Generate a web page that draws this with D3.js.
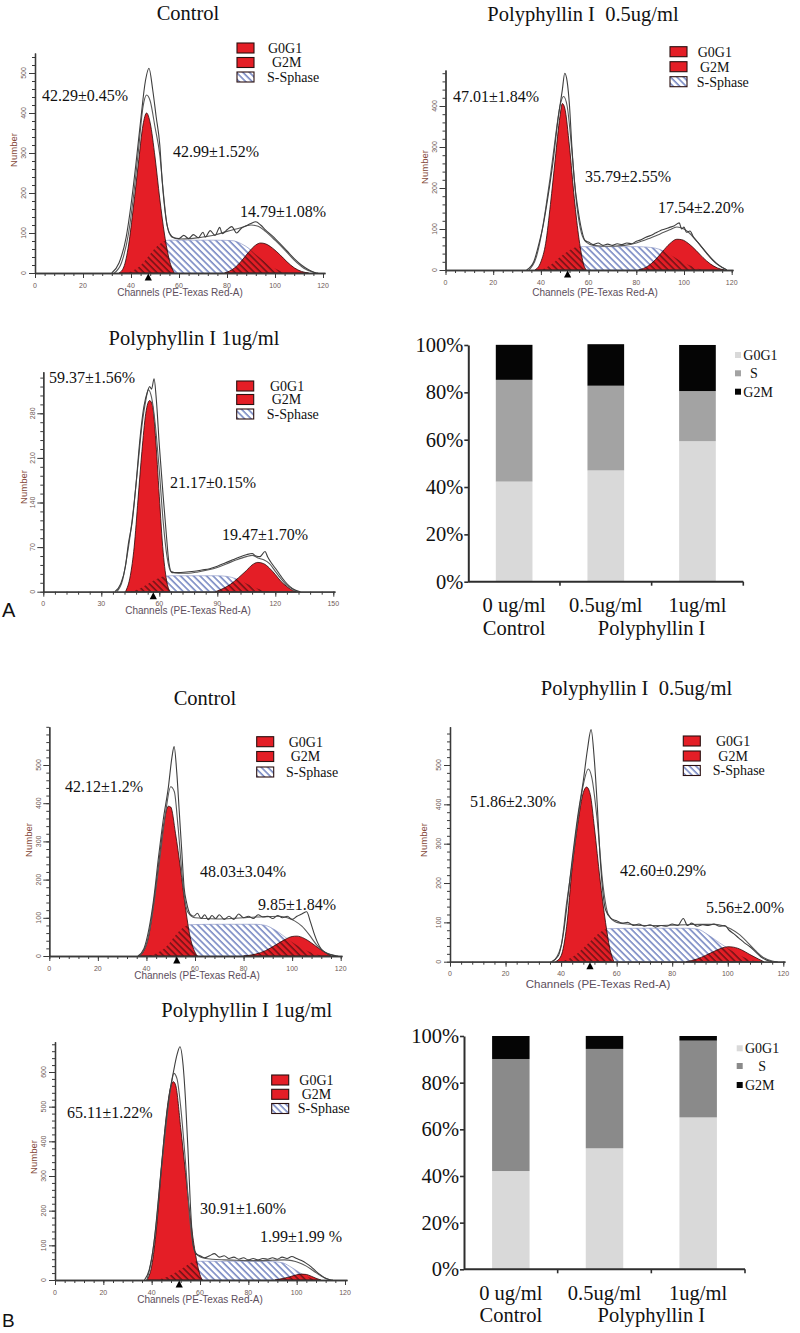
<!DOCTYPE html>
<html><head><meta charset="utf-8">
<script src="https://cdn.jsdelivr.net/npm/d3@7"></script>
<style>body{margin:0;background:#fff}svg{display:block}</style>
</head><body>
<svg id="fig" width="800" height="1333"></svg>
<script>
// ===================== DATA =====================
const panelTitles = ["Control","Polyphyllin I  0.5ug/ml","Polyphyllin I 1ug/ml","Control","Polyphyllin I  0.5ug/ml","Polyphyllin I 1ug/ml"];
const histLegend = ["G0G1","G2M","S-Sphase"];
const xAxisTitle = "Channels (PE-Texas Red-A)";
const yAxisTitle = "Number";

const xTicks120 = [0,20,40,60,80,100,120];
const xTicks150 = [0,30,60,90,120,150];
const yTicksA1 = [0,100,200,300,400,500];
const yTicksA2 = [0,100,200,300,400];
const yTicksA3 = [0,70,140,210,280];
const yTicksB1 = [0,100,200,300,400,500];
const yTicksB2 = [0,100,200,300,400,500];
const yTicksB3 = [0,100,200,300,400,500,600];

const phaseLabelsA1 = ["42.29±0.45%","42.99±1.52%","14.79±1.08%"];
const phaseLabelsA2 = ["47.01±1.84%","35.79±2.55%","17.54±2.20%"];
const phaseLabelsA3 = ["59.37±1.56%","21.17±0.15%","19.47±1.70%"];
const phaseLabelsB1 = ["42.12±1.2%","48.03±3.04%","9.85±1.84%"];
const phaseLabelsB2 = ["51.86±2.30%","42.60±0.29%","5.56±2.00%"];
const phaseLabelsB3 = ["65.11±1.22%","30.91±1.60%","1.99±1.99 %"];

// G1 peak marker channel
const g1Marker = [47.2, 51.2, 56.9, 52.5, 50.4, 51.4];

// [channel, count]
const a1G1 = [[35,0],[37,15],[39,70],[41,165],[43,270],[45,370],[46.5,400],[48,375],[50,290],[52,185],[54,95],[56,32],[58,0]];
const a1S = [[38,0],[42,10],[45,25],[47,40],[50,62],[53,77],[56,82],[65,82],[75,82],[82,81],[86,73],[89,62],[92,46],[96,27],[100,11],[104,2],[106,0]];
const a1G2 = [[79,0],[83,12],[86,30],[89,52],[92,70],[94,75],[96,73],[99,62],[102,46],[105,28],[108,13],[111,4],[114,0]];
const a1Obs1 = [[32,0],[35,25],[38,90],[40,170],[42,270],[44,380],[46,480],[47.5,512],[49,460],[50.5,390],[52,320],[53,230],[54.5,140],[56,100],[58,88],[60,86],[62,94],[64,86],[66,96],[68,88],[70,102],[71,90],[73,106],[75,94],[77,114],[78,98],[80,108],[82,116],[84,100],[86,112],[88,118],[90,124],[92,128],[94,120],[96,108],[99,92],[102,74],[105,55],[108,36],[111,20],[114,8],[117,0]];
const a1Obs2 = [[33,0],[36,25],[39,100],[41,190],[43,300],[45,415],[46.5,445],[48,430],[50,365],[52,295],[53.5,200],[55,120],[57,90],[60,85],[65,86],[70,90],[75,95],[80,104],[85,112],[90,120],[93,117],[96,104],[100,82],[104,58],[108,32],[112,12],[116,2],[118,0]];

const a2G1 = [[37.5,0],[40,20],[42,65],[44,160],[46,270],[48,375],[49,406],[50,395],[52,300],[54,175],[56,75],[58,12],[59,0]];
const a2S = [[40,0],[44,12],[48,32],[52,48],[55,56],[58,57],[70,57],[80,57],[86,55],[90,50],[94,38],[98,24],[102,12],[106,3],[108,0]];
const a2G2 = [[81,0],[85,10],[88,25],[91,45],[94,64],[97,75],[99,74],[102,64],[105,48],[108,30],[111,15],[114,5],[117,0]];
const a2Obs1 = [[34,0],[37,20],[39,60],[41,110],[43,180],[45,260],[47,360],[49,440],[50,480],[51,460],[52,400],[53,300],[54,220],[55.5,150],[57,100],[58.5,72],[60,68],[62,62],[64,66],[66,60],[68,63],[70,60],[72,64],[74,62],[76,66],[78,64],[80,70],[82,74],[84,80],[86,84],[88,90],[90,96],[92,100],[94,104],[96,108],[98,115],[99,100],[100,105],[101,92],[102.5,95],[104,80],[106,66],[108,52],[110,38],[112,25],[114,14],[116,6],[118,0]];
const a2Obs2 = [[35,0],[38,30],[40,80],[42,150],[44,230],[46,320],[48,400],[49.5,423],[51,400],[53,290],[55,160],[57,90],[59,68],[62,60],[66,58],[70,58],[75,60],[80,66],[85,76],[90,88],[94,98],[97,105],[100,100],[103,86],[106,66],[109,44],[112,24],[115,10],[118,0]];

const a3G1 = [[42.5,0],[45,25],[47,70],[49,145],[51,220],[53,280],[55,300],[56.5,292],[58,245],[60,150],[62,62],[64,14],[65.5,0]];
const a3S = [[45,0],[50,5],[54,12],[58,19],[62,24],[66,25],[80,25],[90,25],[95,24],[100,20],[105,13],[110,6],[115,1],[117,0]];
const a3G2 = [[89,0],[93,5],[97,12],[101,22],[105,33],[108,42],[111,46],[114,44],[117,37],[120,27],[123,16],[126,8],[129,2],[131,0]];
const a3Obs1 = [[37,0],[40,12],[42.5,40],[44,75],[46,110],[48,170],[50,240],[52,290],[54,315],[55,322],[56,318],[57.3,334],[58.5,300],[60,230],[62,150],[63.5,95],[65,45],[66.5,30],[70,30],[74,31],[78,32],[82,34],[86,36],[90,40],[94,45],[98,50],[102,55],[105,58],[108,60],[110,56],[112,55],[114.7,63],[116,55],[118,45],[120.7,34],[123,24],[125,16],[127.6,8],[130,3],[133,0]];
const a3Obs2 = [[38,0],[41,18],[43,50],[45,90],[47,140],[49,200],[51,260],[53,300],[54.3,317],[56,305],[58,260],[60,190],[62,110],[64,55],[66,32],[70,29],[75,29],[80,31],[85,34],[90,38],[95,44],[100,50],[105,55],[108,57],[111,53],[114,50],[117,44],[120,32],[123,20],[126,10],[129,4],[132,0]];

const b1G1 = [[37,0],[39,15],[41,55],[43,140],[45,240],[47,340],[49,392],[50,390],[52,320],[54,230],[56,130],[58,50],[60,10],[61,0]];
const b1S = [[40,0],[45,10],[49,30],[52,55],[55,74],[58,82],[70,83],[85,83],[89,80],[93,68],[97,50],[101,32],[105,17],[109,6],[113,0]];
const b1G2 = [[80,0],[85,5],[89,14],[93,28],[97,43],[100,51],[102,52],[105,46],[108,34],[111,20],[114,8],[116,0]];
const b1Obs1 = [[36.5,0],[39,20],[41,70],[43,150],[45,260],[47,360],[49,440],[50.5,520],[51.4,548],[52.5,480],[53.5,380],[54.5,280],[55.5,180],[56.6,138],[58,110],[59.5,104],[61,112],[62.5,98],[64,108],[65.5,95],[67,106],[68.5,98],[70,108],[72,96],[74,104],[76,96],[78,110],[80,100],[82,104],[84,98],[86,108],[88,102],[90,104],[92,98],[94,106],[96,100],[98,104],[100,96],[102,104],[104,110],[106,116],[107.5,90],[109,60],[110.5,35],[112,18],[114,8],[116,3],[118,0]];
const b1Obs2 = [[37,0],[40,30],[42,90],[44,180],[46,280],[48,380],[50,443],[51.5,430],[53,340],[55,190],[57,115],[60,100],[65,98],[70,97],[75,98],[80,100],[85,102],[90,103],[95,104],[98,100],[101,92],[104,78],[107,56],[110,30],[113,12],[116,4],[119,0]];

const b2G1 = [[38,0],[40,15],[42,90],[44,240],[46,350],[48,430],[49.2,444],[50.5,425],[52,340],[54,210],[56,100],[57.5,35],[59,0]];
const b2S = [[40,0],[44,12],[48,35],[51,55],[54,75],[57,84],[70,85],[85,85],[89,83],[93,68],[97,48],[101,30],[105,14],[109,3],[111,0]];
const b2G2 = [[85,0],[89,7],[92,16],[95,26],[98,35],[100,38],[102,37],[105,30],[108,18],[111,7],[113,0]];
const b2Obs1 = [[36.5,0],[39,15],[41,80],[42.6,174],[44,260],[46,370],[48,460],[49.5,540],[50.8,590],[52,510],[53,400],[54,270],[55,180],[56,132],[58,110],[60,104],[62,98],[64,100],[66,92],[68,96],[70,90],[72,94],[74,88],[76,92],[78,90],[80,96],[82,92],[84,110],[85.5,92],[87,98],[89,90],[91,94],[93,92],[95,96],[97,90],[99,92],[100.5,80],[102,72],[104,60],[106,48],[108,38],[110,25],[112,12],[114,4],[116,0]];
const b2Obs2 = [[37,0],[40,40],[42,150],[44,250],[46,360],[48,450],[49.8,490],[51,470],[53,360],[55,200],[57,120],[60,100],[65,95],[70,92],[75,92],[80,93],[85,94],[90,95],[95,95],[98,92],[101,84],[104,70],[107,50],[110,28],[113,10],[116,2],[118,0]];

const b3G1 = [[38,0],[40,40],[42,150],[44,320],[46,470],[48,560],[49,572],[50,560],[52,440],[54,310],[56,180],[58,80],[60,15],[61,0]];
const b3S = [[42,0],[46,8],[50,22],[54,40],[57,52],[60,54],[75,54],[90,53],[94,50],[97,40],[100,27],[103,14],[106,5],[108,0]];
const b3G2 = [[91,0],[94,4],[97,9],[100,15],[102,17],[104,16],[106,11],[108,5],[110,0]];
const b3Obs1 = [[37,0],[39,30],[41,110],[43,250],[45,400],[47,520],[49,600],[50.5,650],[51.7,673],[53,620],[54,520],[55,380],[56,220],[57.2,100],[58.5,75],[60,70],[62,64],[64,70],[66,76],[68,66],[70,70],[72,62],[74,66],[76,60],[78,64],[80,58],[82,62],[84,58],[86,62],[88,60],[90,64],[92,60],[94,66],[96,62],[98,68],[100,62],[102,56],[104,48],[106,38],[108,25],[110,14],[112,5],[114,0]];
const b3Obs2 = [[38,0],[40,60],[42,170],[44,320],[46,450],[48,560],[49.2,596],[50.5,580],[52,500],[54,340],[56,160],[58,80],[61,64],[65,60],[70,58],[75,57],[80,56],[85,56],[90,57],[95,58],[98,56],[101,50],[104,40],[107,26],[110,12],[113,2],[115,0]];

// stacked bars
const barCategories = ["0 ug/ml","0.5ug/ml","1ug/ml"];
const barGroups = ["Control","Polyphyllin I"];
const barKeys = ["G0G1","S","G2M"];
const barPercentTicks = [0,20,40,60,80,100];
const barA_G0G1 = [42.29, 47.01, 59.37];
const barA_S    = [42.99, 35.79, 21.17];
const barA_G2M  = [14.79, 17.54, 19.47];
const barB_G0G1 = [42.12, 51.86, 65.11];
const barB_S    = [48.03, 42.60, 32.90];
const barB_G2M  = [9.85, 5.56, 1.99];

// ===================== LAYOUT / STYLE =====================
const RED = "#e41e26";
const SERIF = "'Liberation Serif','Times New Roman',serif";
const SANS = "'Liberation Sans',Arial,sans-serif";

const hists = [
  {id:"a1", title:panelTitles[0], tx:188, ty:20, xPx:[35,323], xMax:120, xEnd:325, yPx:[273,73], yMax:500, yTop:53,
   xt:xTicks120, yt:yTicksA1, g1:a1G1, s:a1S, g2:a1G2, o1:a1Obs1, o2:a1Obs2, labels:phaseLabelsA1,
   lp:[[42,101],[173,156.5],[240,216.5]], leg:{bx:237, by:[48,62.5,77], tx:[268,272,267]}, numDx:-21, numY:150, chX:180, chY:296, mk:g1Marker[0], chFs:10},
  {id:"a2", title:panelTitles[1], tx:583, ty:21, xPx:[445.5,731.7], xMax:120, xEnd:733, yPx:[270,106], yMax:400, yTop:70,
   xt:xTicks120, yt:yTicksA2, g1:a2G1, s:a2S, g2:a2G2, o1:a2Obs1, o2:a2Obs2, labels:phaseLabelsA2,
   lp:[[453,102],[585,182],[658,213]], leg:{bx:670, by:[51.7,66.7,81.7], tx:[697.7,700,696.7]}, numDx:-21, numY:167, chX:595, chY:296, mk:g1Marker[1], chFs:10},
  {id:"a3", title:panelTitles[2], tx:194, ty:345, xPx:[43.3,333.3], xMax:150, xEnd:335, yPx:[591.7,413.3], yMax:280, yTop:371.7,
   xt:xTicks150, yt:yTicksA3, g1:a3G1, s:a3S, g2:a3G2, o1:a3Obs1, o2:a3Obs2, labels:phaseLabelsA3,
   lp:[[49,383],[170,487.5],[222,539.5]], leg:{bx:236.7, by:[386,399.5,414], tx:[270,271.7,266.7]}, numDx:-19.5, numY:487, chX:188, chY:614, mk:g1Marker[2], chFs:10},
  {id:"b1", title:panelTitles[3], tx:205, ty:705, xPx:[49.3,340.7], xMax:120, xEnd:342, yPx:[956,765], yMax:500, yTop:726.7,
   xt:xTicks120, yt:yTicksB1, g1:b1G1, s:b1S, g2:b1G2, o1:b1Obs1, o2:b1Obs2, labels:phaseLabelsB1,
   lp:[[65,792],[200,877],[258,910]], leg:{bx:256.7, by:[741.7,756.5,772], tx:[288.7,290.7,286]}, numDx:-21, numY:840, chX:197, chY:979, mk:g1Marker[3], chFs:10},
  {id:"b2", title:panelTitles[4], tx:636.5, ty:695, xPx:[450,783.3], xMax:120, xEnd:785, yPx:[961.7,765], yMax:500, yTop:726.7,
   xt:xTicks120, yt:yTicksB2, g1:b2G1, s:b2S, g2:b2G2, o1:b2Obs1, o2:b2Obs2, labels:phaseLabelsB2,
   lp:[[470,807],[620,876],[706,913]], leg:{bx:683.3, by:[741,756,770.5], tx:[716,718.3,712.7]}, numDx:-26.5, numY:840, chX:598, chY:988, mk:g1Marker[4], chFs:11.5},
  {id:"b3", title:panelTitles[5], tx:246.7, ty:1017, xPx:[55,345], xMax:120, xEnd:347, yPx:[1280,1072], yMax:600, yTop:1041.7,
   xt:xTicks120, yt:yTicksB3, g1:b3G1, s:b3S, g2:b3G2, o1:b3Obs1, o2:b3Obs2, labels:phaseLabelsB3,
   lp:[[67,1117.5],[200,1213.5],[260,1242]], leg:{bx:271.7, by:[1080,1094.3,1108.5], tx:[299.3,301.7,297.7]}, numDx:-21, numY:1157, chX:200, chY:1303, mk:g1Marker[5], chFs:10}
];

const bars = [
  {id:"ba", x0:468.3, x1:743.3, y0:581.7, yTop:345, g1:barA_G0G1, s:barA_S, g2:barA_G2M, sColor:"#a3a3a3",
   leg:{sx:735, sy:[355,373.3,391.7], tx:[743.3,750,743.3]}},
  {id:"bb", x0:464, x1:745, y0:1269.3, yTop:1036, g1:barB_G0G1, s:barB_S, g2:barB_G2M, sColor:"#8a8a8a",
   leg:{sx:736.7, sy:[1048.3,1066,1085], tx:[745,758.3,745]}}
];

// ===================== DRAW =====================
const svg = d3.select("#fig");
svg.append("rect").attr("width",800).attr("height",1333).attr("fill","#fff");
const defs = svg.append("defs");

function hatch(id, color, bg, w){
  const p = defs.append("pattern").attr("id",id).attr("patternUnits","userSpaceOnUse")
    .attr("width",4.6).attr("height",4.6).attr("patternTransform","rotate(-45)");
  if (bg) p.append("rect").attr("width",4.6).attr("height",4.6).attr("fill",bg);
  p.append("line").attr("x1",1).attr("y1",0).attr("x2",1).attr("y2",4.6).attr("stroke",color).attr("stroke-width",w);
}
hatch("hatchBlue","#3a52a8","#fff",1.1);
hatch("hatchBlack","#1a0a0a",null,0.9);

function drawHist(h){
  const g = svg.append("g");
  const x = d3.scaleLinear().domain([0,h.xMax]).range(h.xPx);
  const y = d3.scaleLinear().domain([0,h.yMax]).range(h.yPx);
  const area = d3.area().x(d=>x(d[0])).y0(y(0)).y1(d=>y(d[1])).curve(d3.curveMonotoneX);
  const line = d3.line().x(d=>x(d[0])).y(d=>y(d[1])).curve(d3.curveMonotoneX);

  const cp = defs.append("clipPath").attr("id","clip"+h.id);
  cp.append("path").attr("d",area(h.g1));
  cp.append("path").attr("d",area(h.g2));

  g.append("path").attr("d",area(h.s)).attr("fill","url(#hatchBlue)").attr("stroke","#7f8cc0").attr("stroke-width",0.6);
  g.append("path").attr("d",area(h.g1)).attr("fill",RED).attr("stroke","#2a0808").attr("stroke-width",0.8);
  g.append("path").attr("d",area(h.g2)).attr("fill",RED).attr("stroke","#2a0808").attr("stroke-width",0.8);
  g.append("path").attr("d",area(h.s)).attr("fill","url(#hatchBlack)").attr("clip-path","url(#clip"+h.id+")");
  g.append("path").attr("d",line(h.o2)).attr("fill","none").attr("stroke","#5a5a5a").attr("stroke-width",1.1);
  g.append("path").attr("d",line(h.o1)).attr("fill","none").attr("stroke","#3e3e3e").attr("stroke-width",1.1);

  // axes
  const yAx = d3.scaleLinear().domain([0,y.invert(h.yTop)]).range([h.yPx[0],h.yTop]);
  const xAx = d3.scaleLinear().domain([0,x.invert(h.xEnd)]).range([h.xPx[0],h.xEnd]);
  const yStep = h.yt[1]-h.yt[0], xStep = h.xt[1]-h.xt[0];
  const yMinor = d3.range(0, y.invert(h.yTop), yStep/5);
  const xMinor = d3.range(0, x.invert(h.xEnd), xStep/5);
  const ax = g.append("g").attr("color","#3a3a3a");
  ax.append("g").attr("transform",`translate(${h.xPx[0]},0)`)
    .call(d3.axisLeft(yAx).tickValues(yMinor).tickSize(3).tickSizeOuter(0).tickFormat(""));
  ax.append("g").attr("transform",`translate(${h.xPx[0]},0)`)
    .call(d3.axisLeft(yAx).tickValues(h.yt).tickSize(6).tickSizeOuter(0).tickFormat(""));
  ax.append("g").attr("transform",`translate(0,${h.yPx[0]})`)
    .call(d3.axisBottom(xAx).tickValues(xMinor).tickSize(3).tickSizeOuter(0).tickFormat(""));
  ax.append("g").attr("transform",`translate(0,${h.yPx[0]})`)
    .call(d3.axisBottom(xAx).tickValues(h.xt).tickSize(5).tickSizeOuter(0).tickFormat(""));
  ax.selectAll("path.domain").attr("stroke-width",1.3);

  // tick labels
  g.selectAll(".ylab").data(h.yt).join("text")
    .attr("transform",d=>`translate(${h.xPx[0]-11},${y(d)}) rotate(-90)`)
    .attr("text-anchor","middle").attr("dy","0.35em")
    .attr("font-family",SANS).attr("font-size",7).attr("fill","#6e5a55").text(d=>d);
  g.selectAll(".xlab").data(h.xt).join("text")
    .attr("x",d=>x(d)).attr("y",h.yPx[0]+14.5).attr("text-anchor","middle")
    .attr("font-family",SANS).attr("font-size",7).attr("fill","#6e5a55").text(d=>d);

  g.append("text").attr("transform",`translate(${h.xPx[0]+h.numDx},${h.numY}) rotate(-90)`)
    .attr("text-anchor","middle").attr("dy","0.35em").attr("font-family",SANS).attr("font-size",9.5)
    .attr("fill","#85483a").text(yAxisTitle);
  g.append("text").attr("x",h.chX).attr("y",h.chY).attr("text-anchor","middle")
    .attr("font-family",SANS).attr("font-size",h.chFs).attr("fill","#5d4e5c").text(xAxisTitle);

  // marker
  const mx = x(h.mk), my = h.yPx[0];
  g.append("path").attr("d",`M${mx},${my+0.5}L${mx+3.6},${my+7.5}L${mx-3.6},${my+7.5}Z`).attr("fill","#000");

  // title
  g.append("text").attr("x",h.tx).attr("y",h.ty).attr("text-anchor","middle")
    .attr("font-family",SERIF).attr("font-size",20.5).attr("fill","#111")
    .style("white-space","pre").text(h.title);

  // phase labels
  g.selectAll(".pl").data(h.labels).join("text")
    .attr("x",(d,i)=>h.lp[i][0]).attr("y",(d,i)=>h.lp[i][1])
    .attr("font-family",SERIF).attr("font-size",16).attr("fill","#111").text(d=>d);

  // legend
  const lg = g.append("g");
  histLegend.forEach((k,i)=>{
    lg.append("rect").attr("x",h.leg.bx).attr("y",h.leg.by[i]-5).attr("width",17).attr("height",10)
      .attr("fill", k==="S-Sphase" ? "url(#hatchBlue)" : RED).attr("stroke","#2a1010").attr("stroke-width",1.1);
    lg.append("text").attr("x",h.leg.tx[i]).attr("y",h.leg.by[i]+4.8)
      .attr("font-family",SERIF).attr("font-size",14).attr("fill","#111").text(k);
  });
}
hists.forEach(drawHist);

function drawBars(b){
  const g = svg.append("g");
  const x = d3.scaleBand().domain(barCategories).range([b.x0,b.x1]).paddingInner(0.6).paddingOuter(0.3);
  const xb = d3.scaleBand().domain(barCategories).range([b.x0,b.x1]).padding(0);
  const y = d3.scaleLinear().domain([0,100]).range([b.y0,b.yTop]);
  const rows = barCategories.map((c,i)=>({cat:c, G0G1:b.g1[i], S:b.s[i], G2M:b.g2[i]}));
  const series = d3.stack().keys(barKeys)(rows);
  const color = d3.scaleOrdinal().domain(barKeys).range(["#d9d9d9", b.sColor, "#050505"]);
  g.selectAll(".ser").data(series).join("g").attr("fill",d=>color(d.key))
    .selectAll("rect").data(d=>d).join("rect")
    .attr("x",d=>x(d.data.cat)).attr("width",x.bandwidth())
    .attr("y",d=>y(d[1])).attr("height",d=>y(d[0])-y(d[1]));

  const ya = g.append("g").attr("transform",`translate(${b.x0},0)`)
    .call(d3.axisLeft(y).tickValues(barPercentTicks).tickFormat(d=>d+"%").tickSize(4).tickPadding(1).tickSizeOuter(0));
  ya.attr("color","#2e2e2e");
  ya.select("path.domain").attr("stroke-width",2);
  ya.selectAll("line").attr("stroke-width",1.6);
  ya.selectAll("text").attr("font-family",SERIF).attr("font-size",20.5).attr("fill","#111");

  g.append("line").attr("x1",b.x0).attr("x2",b.x1).attr("y1",b.y0).attr("y2",b.y0).attr("stroke","#2e2e2e").attr("stroke-width",2);
  const bounds = barCategories.slice(1).map(c=>xb(c)).concat([b.x1]);
  g.selectAll(".bt").data(bounds).join("line").attr("x1",d=>d).attr("x2",d=>d)
    .attr("y1",b.y0).attr("y2",b.y0+4).attr("stroke","#2e2e2e").attr("stroke-width",1.6);

  g.selectAll(".cl").data(barCategories).join("text")
    .attr("x",d=>x(d)+x.bandwidth()/2).attr("y",b.y0+30.5).attr("text-anchor","middle")
    .attr("font-family",SERIF).attr("font-size",20.5).attr("fill","#111").text(d=>d);
  const c0 = x(barCategories[0])+x.bandwidth()/2;
  const c12 = (x(barCategories[1])+x(barCategories[2]))/2 + x.bandwidth()/2;
  g.selectAll(".gl").data(barGroups).join("text")
    .attr("x",(d,i)=> i===0 ? c0 : c12).attr("y",b.y0+53).attr("text-anchor","middle")
    .attr("font-family",SERIF).attr("font-size",20.5).attr("fill","#111").text(d=>d);

  barKeys.forEach((k,i)=>{
    g.append("rect").attr("x",b.leg.sx).attr("y",b.leg.sy[i]-3).attr("width",6).attr("height",6).attr("fill",color(k));
    g.append("text").attr("x",b.leg.tx[i]).attr("y",b.leg.sy[i]+4.8)
      .attr("font-family",SERIF).attr("font-size",14).attr("fill","#111").text(k);
  });
}
bars.forEach(drawBars);

// panel letters
svg.append("text").attr("x",2).attr("y",617).attr("font-family",SANS).attr("font-size",20).attr("fill","#111").text("A");
svg.append("text").attr("x",2).attr("y",1327).attr("font-family",SANS).attr("font-size",19).attr("fill","#111").text("B");
</script>
</body></html>
